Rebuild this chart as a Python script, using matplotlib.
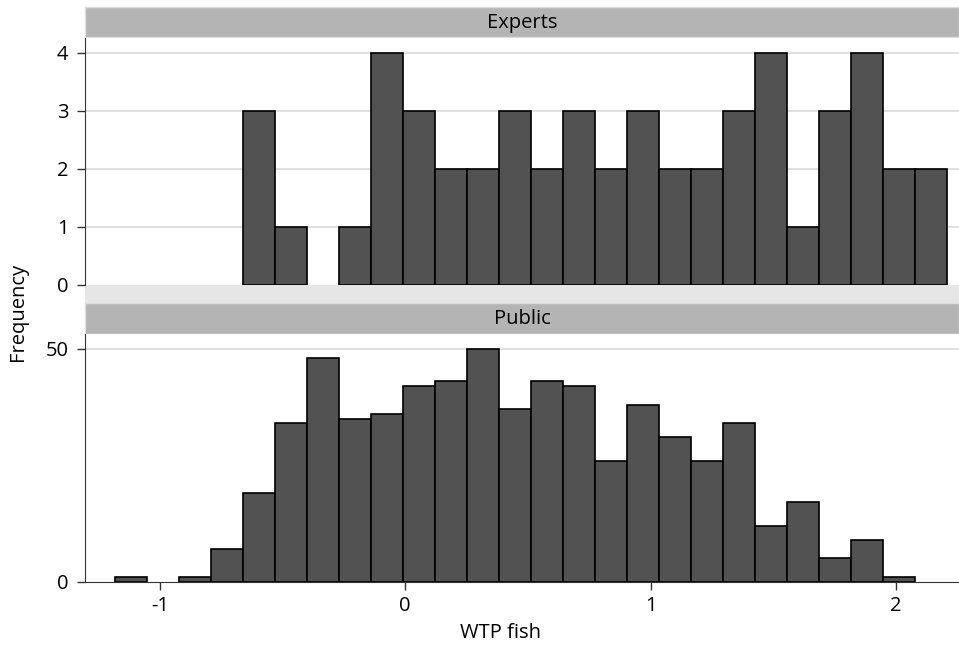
import matplotlib
matplotlib.use("Agg")
import matplotlib.pyplot as plt
import numpy as np

plt.rcParams['font.family'] = ['Open Sans', 'DejaVu Sans']

# histogram bins (same bins for both groups)
bin_start = -1.1834
bin_width = 0.13044

# public: 25 bins starting at bin_start
public_counts = [1, 0, 1, 7, 19, 34, 48, 35, 36, 42, 43, 50, 37,
                 43, 42, 26, 38, 31, 26, 34, 12, 17, 5, 9, 1]
# experts: 22 bins starting 4 bins further right
experts_first_bin = 4
experts_counts = [3, 1, 0, 1, 4, 3, 2, 2, 3, 2, 3, 2, 3, 2, 2, 3, 4, 1, 3, 4, 2, 2]

panel_names = ["Experts", "Public"]
experts_yticks = [0, 1, 2, 3, 4]
public_yticks = [0, 50]
xticks = [-1, 0, 1, 2]

W, H = 959, 650
fig = plt.figure(figsize=(W / 100, H / 100), dpi=100)
fs = 14.5

def box(top, bottom, left=85, right=959):
    return [left / W, 1 - bottom / H, (right - left) / W, (bottom - top) / H]

bar_col = "#525252"
strip_col = "#b4b4b4"
grid_col = "#dadada"

# light band between the panels
band = fig.add_axes(box(285, 303))
band.set_facecolor("#e6e6e6")
band.set_xticks([]); band.set_yticks([])
for s in band.spines.values():
    s.set_visible(False)

# strips
for (top, bottom), name in zip([(7, 37), (303, 334)], panel_names):
    st = fig.add_axes(box(top, bottom))
    st.set_facecolor(strip_col)
    st.set_xticks([]); st.set_yticks([])
    for s in st.spines.values():
        s.set_color("#dedede")
        s.set_linewidth(1)
    st.text(0.5, 0.47, name, ha="center", va="center", fontsize=fs, transform=st.transAxes)

ax1 = fig.add_axes(box(38, 285))
ax2 = fig.add_axes(box(334, 581.7))

e_left = bin_start + bin_width * (experts_first_bin + np.arange(len(experts_counts)))
p_left = bin_start + bin_width * np.arange(len(public_counts))
e_counts = np.array(experts_counts)
p_counts = np.array(public_counts)

# empty bins are not drawn
ax1.bar(e_left[e_counts > 0], e_counts[e_counts > 0], width=bin_width, align="edge",
        color=bar_col, edgecolor="black", linewidth=1.2, zorder=3)
ax2.bar(p_left[p_counts > 0], p_counts[p_counts > 0], width=bin_width, align="edge",
        color=bar_col, edgecolor="black", linewidth=1.2, zorder=3)

for ax, ticks, top in [(ax1, experts_yticks, 4.25), (ax2, public_yticks, 53.15)]:
    ax.set_xlim(-1.305, 2.257)
    ax.set_ylim(0, top)
    ax.set_yticks(ticks)
    ax.set_yticklabels([str(t) for t in ticks])
    for t in ticks[1:]:
        ax.axhline(t, color=grid_col, linewidth=1.2, zorder=1)
    ax.spines["top"].set_visible(False)
    ax.spines["right"].set_visible(False)
    ax.spines["left"].set_color("#333333")
    ax.tick_params(axis="y", length=6, width=1, colors="#333333", pad=6,
                   labelsize=fs, labelcolor="black")

ax1.spines["bottom"].set_visible(False)
ax1.set_xticks([])

ax2.set_xticks(xticks)
ax2.set_xticklabels([str(t) for t in xticks])
ax2.spines["bottom"].set_color("#333333")
ax2.tick_params(axis="x", length=6, width=1, colors="#333333", pad=4,
                labelsize=fs, labelcolor="black")

fig.text(18 / W, 1 - 312 / H, "Frequency", rotation=90, ha="center", va="center", fontsize=fs)
fig.text(500 / W, 1 - 633 / H, "WTP fish", ha="center", va="center", fontsize=fs)

fig.savefig("out.png", dpi=100)
